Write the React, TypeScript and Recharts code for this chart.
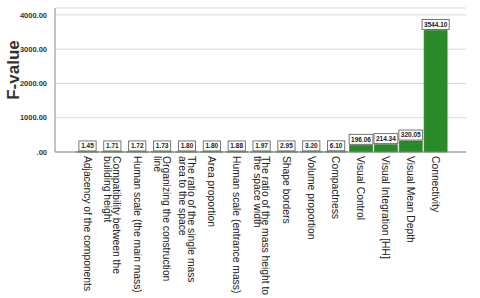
import React from 'react';
import { BarChart, Bar, XAxis, YAxis, CartesianGrid, LabelList } from 'recharts';

// category names (line breaks follow the wrapping in the picture)
const categories = [
  'Adjacency of the components',
  'Compatibility between the\nbuilding height',
  'Human scale (the main mass)',
  'Organizing the construction\nline',
  'The ratio of the single mass\narea to the space',
  'Area proportion',
  'Human scale (entrance mass)',
  'The ratio of the mass height to\nthe space width',
  'Shape borders',
  'Volume proportion',
  'Compactness',
  'Visual Control',
  'Visual Integration [HH]',
  'Visual Mean Depth',
  'Connectivity',
];

const fValues = [1.45, 1.71, 1.72, 1.73, 1.8, 1.8, 1.88, 1.97, 2.95, 3.2, 6.1, 196.06, 214.34, 320.05, 3544.1];

const yTicks = [0, 1000, 2000, 3000, 4000];

const FONT = '"Liberation Sans", Arial, sans-serif';

const data = categories.map((name, i) => ({ name, f: fValues[i] }));

const XTick = (props: any) => {
  const { x, y, payload } = props;
  const lines = String(payload.value).split('\n');
  const lh = 8.8;
  return (
    <g transform={`translate(${x},${y}) rotate(90)`}>
      <text x={0} y={0} textAnchor="start" fontSize={10.3} fill="#222" fontFamily={FONT}>
        {lines.map((l, i) => (
          <tspan key={i} x={0} dy={i === 0 ? -((lines.length - 1) * lh) / 2 + 3.6 : lh}>
            {l}
          </tspan>
        ))}
      </text>
    </g>
  );
};

// boxed value label above each bar
const ValueLabel = (props: any) => {
  const { x, y, width, value } = props;
  const s = Number(value).toFixed(2);
  const w = s.length * 3.3 + 4;
  const cx = x + width / 2;
  return (
    <g>
      <rect x={cx - w / 2} y={y - 11} width={w} height={10} fill="#fff" stroke="#555" strokeWidth={0.8} />
      <text x={cx} y={y - 3.6} textAnchor="middle" fontSize={6.5} fontWeight="bold" fill="#222" fontFamily={FONT}>
        {s}
      </text>
    </g>
  );
};

const YTitle = () => (
  <text
    x={0}
    y={0}
    transform="translate(19,70) rotate(-90)"
    textAnchor="middle"
    fontSize={17}
    fontWeight="bold"
    fill="#333"
    fontFamily={FONT}
  >
    F-value
  </text>
);

export default function App() {
  return (
    <div style={{ position: 'absolute', left: 0, top: 0, width: 480, height: 298, background: '#fff' }}>
      <BarChart width={480} height={298} data={data} margin={{ top: 8, right: 14, bottom: 0, left: 10 }}>
        <CartesianGrid vertical={false} stroke="#d8d8d8" />
        <XAxis
          dataKey="name"
          interval={0}
          height={146}
          tickLine={false}
          tickSize={2}
          tick={<XTick />}
          padding={{ left: 20, right: 18 }}
          axisLine={{ stroke: '#888' }}
        />
        <YAxis
          width={45}
          domain={[0, 4200]}
          ticks={yTicks}
          tickLine={false}
          axisLine={{ stroke: '#888' }}
          tickFormatter={(v: number) => (v === 0 ? '.00' : v.toFixed(2))}
          tick={{ fontSize: 7.5, fill: '#333', fontWeight: 'bold', fontFamily: FONT }}
          label={<YTitle />}
        />
        <Bar dataKey="f" fill="#2a8a2a" stroke="#1f6f1f" strokeWidth={0.6} barSize={23} isAnimationActive={false}>
          <LabelList dataKey="f" content={<ValueLabel />} />
        </Bar>
      </BarChart>
    </div>
  );
}
